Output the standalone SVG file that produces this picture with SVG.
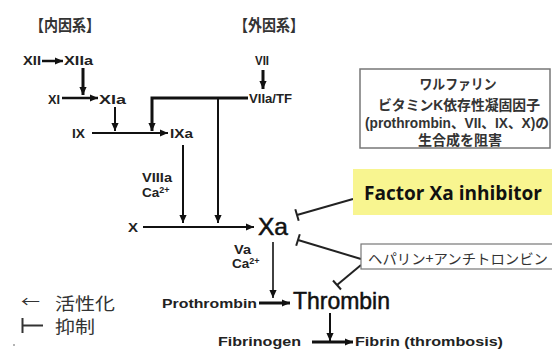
<svg xmlns="http://www.w3.org/2000/svg" width="552" height="350" viewBox="0 0 552 350">
<style>
.lb{font-family:"Liberation Sans",Arial,sans-serif;font-weight:bold;font-size:13.5px;fill:#222}
.sup{font-size:9px}
.big{font-family:"Liberation Sans",Arial,sans-serif;font-size:24px;fill:#111;stroke:#111;stroke-width:0.5}
.jp{font-family:"Liberation Sans","Noto Sans CJK JP",sans-serif;font-weight:bold;fill:#333}
.lg{font-family:"Noto Sans CJK JP",sans-serif;fill:#333}
.ln{stroke:#111;fill:none}
.inh{stroke:#222;stroke-width:2;fill:none}
.box{fill:#fff;stroke:#777;stroke-width:1.5}
</style>
<defs>
<marker id="ah" viewBox="0 0 10 10" refX="10" refY="5" markerWidth="8" markerHeight="8" markerUnits="userSpaceOnUse" orient="auto"><path d="M0,0.5 L10,5 L0,9.5 z" fill="#111"/></marker>
</defs>
<rect width="552" height="350" fill="#fff"/>

<g id="headers">
<text class="jp" x="30" y="31" font-size="16" textLength="70" lengthAdjust="spacingAndGlyphs">【内因系】</text>
<text class="jp" x="234" y="31" font-size="16" textLength="70" lengthAdjust="spacingAndGlyphs">【外因系】</text>
</g>

<g id="connectors">
<line class="ln" x1="42" y1="61" x2="63" y2="61" stroke-width="2.5" marker-end="url(#ah)"/>
<line class="ln" x1="83" y1="68" x2="83" y2="95" stroke-width="3" marker-end="url(#ah)"/>
<line class="ln" x1="62" y1="98" x2="98" y2="98" stroke-width="2.5" marker-end="url(#ah)"/>
<line class="ln" x1="115" y1="107" x2="115" y2="131" stroke-width="2" marker-end="url(#ah)"/>
<line class="ln" x1="92" y1="133" x2="168" y2="133" stroke-width="2" marker-end="url(#ah)"/>
<polyline class="ln" points="248,98 152,98 152,131" stroke-width="3" marker-end="url(#ah)"/>
<line class="ln" x1="218" y1="98" x2="218" y2="223" stroke-width="2" marker-end="url(#ah)"/>
<line class="ln" x1="263" y1="70" x2="263" y2="89" stroke-width="3" marker-end="url(#ah)"/>
<line class="ln" x1="183" y1="145" x2="183" y2="223" stroke-width="2" marker-end="url(#ah)"/>
<line class="ln" x1="143" y1="227" x2="254" y2="227" stroke-width="2" marker-end="url(#ah)"/>
<line class="ln" x1="273" y1="242" x2="273" y2="298" stroke-width="1.6" marker-end="url(#ah)"/>
<line class="ln" x1="259" y1="303" x2="290" y2="303" stroke-width="3" marker-end="url(#ah)"/>
<line class="ln" x1="330" y1="313" x2="330" y2="341" stroke-width="2" marker-end="url(#ah)"/>
<line class="ln" x1="312" y1="342" x2="353" y2="342" stroke-width="3" marker-end="url(#ah)"/>
<line class="inh" x1="353" y1="199" x2="297" y2="215"/>
<line class="inh" x1="295.3" y1="209.2" x2="298.7" y2="220.8"/>
<line class="inh" x1="361" y1="259" x2="298" y2="240"/>
<line class="inh" x1="299.8" y1="234.3" x2="296.2" y2="245.7"/>
<line class="inh" x1="361" y1="265" x2="337" y2="285"/>
<line class="inh" x1="333" y1="280.5" x2="341" y2="289.5"/>
</g>

<g id="n-XII"><text class="lb" x="23" y="65" textLength="18" lengthAdjust="spacingAndGlyphs">XII</text></g>
<g id="n-XIIa"><text class="lb" x="64" y="65" textLength="29" lengthAdjust="spacingAndGlyphs">XIIa</text></g>
<g id="n-XI"><text class="lb" x="48" y="104" textLength="12" lengthAdjust="spacingAndGlyphs">XI</text></g>
<g id="n-XIa"><text class="lb" x="99" y="104" textLength="27" lengthAdjust="spacingAndGlyphs">XIa</text></g>
<g id="n-IX"><text class="lb" x="72" y="138" textLength="13" lengthAdjust="spacingAndGlyphs">IX</text></g>
<g id="n-IXa"><text class="lb" x="170" y="138" textLength="23" lengthAdjust="spacingAndGlyphs">IXa</text></g>
<g id="n-VII"><text class="lb" x="255" y="65" textLength="14" lengthAdjust="spacingAndGlyphs">VII</text></g>
<g id="n-VIIaTF"><text class="lb" x="249" y="103" textLength="43" lengthAdjust="spacingAndGlyphs">VIIa/TF</text></g>
<g id="n-VIIIa">
<text class="lb" x="142" y="182" textLength="30" lengthAdjust="spacingAndGlyphs">VIIIa</text>
<text class="lb" x="142" y="197">Ca<tspan class="sup" dy="-4">2+</tspan></text>
</g>
<g id="n-X"><text class="lb" x="128" y="232" textLength="10" lengthAdjust="spacingAndGlyphs">X</text></g>
<g id="n-Xa"><text class="big" x="258" y="235" textLength="30" lengthAdjust="spacingAndGlyphs">Xa</text></g>
<g id="n-Va">
<text class="lb" x="234" y="254" textLength="17" lengthAdjust="spacingAndGlyphs">Va</text>
<text class="lb" x="232" y="268">Ca<tspan class="sup" dy="-4">2+</tspan></text>
</g>
<g id="n-Prothrombin"><text class="lb" x="162" y="308" textLength="95" lengthAdjust="spacingAndGlyphs">Prothrombin</text></g>
<g id="n-Thrombin"><text class="big" x="293" y="309" font-size="21" textLength="97" lengthAdjust="spacingAndGlyphs">Thrombin</text></g>
<g id="n-Fibrinogen"><text class="lb" x="218" y="346" textLength="83" lengthAdjust="spacingAndGlyphs">Fibrinogen</text></g>
<g id="n-Fibrin"><text class="lb" x="355" y="346" textLength="148" lengthAdjust="spacingAndGlyphs">Fibrin (thrombosis)</text></g>

<g id="n-warfarin">
<rect class="box" x="360" y="69" width="190" height="79"/>
<g text-anchor="middle">
<text class="jp" x="458" y="89" font-size="14" textLength="77" lengthAdjust="spacingAndGlyphs">ワルファリン</text>
<text class="jp" x="459" y="110" font-size="14" textLength="162" lengthAdjust="spacingAndGlyphs">ビタミンK依存性凝固因子</text>
<text class="jp" x="457" y="128" font-size="14" textLength="184" lengthAdjust="spacingAndGlyphs">(prothrombin、VII、IX、X)の</text>
<text class="jp" x="460" y="145" font-size="14" textLength="84" lengthAdjust="spacingAndGlyphs">生合成を阻害</text>
</g>
</g>

<g id="n-fxa-inhibitor">
<rect x="353" y="169" width="200" height="46" fill="#f8f590"/>
<text x="364" y="200" font-family="'Open Sans','Liberation Sans',sans-serif" font-weight="bold" font-size="20" fill="#111" textLength="178" lengthAdjust="spacingAndGlyphs">Factor Xa inhibitor</text>
</g>

<g id="n-heparin">
<rect x="361" y="244" width="196" height="25" fill="#fff" stroke="#777" stroke-width="1.2"/>
<text class="lg" x="368" y="264" font-size="14" textLength="180" lengthAdjust="spacingAndGlyphs">ヘパリン+アンチトロンビン</text>
</g>

<g id="legend">
<text class="lg" x="21" y="307" font-size="15" textLength="19" lengthAdjust="spacingAndGlyphs">←</text>
<text class="lg" x="55" y="310" font-size="17" textLength="60" lengthAdjust="spacingAndGlyphs">活性化</text>
<line x1="22.5" y1="318" x2="22.5" y2="333" stroke="#333" stroke-width="2"/>
<line x1="22" y1="325.5" x2="43" y2="325.5" stroke="#333" stroke-width="2"/>
<text class="lg" x="55" y="333" font-size="17" textLength="40" lengthAdjust="spacingAndGlyphs">抑制</text>
<circle cx="14" cy="345" r="0.8" fill="#555"/>
</g>
</svg>
